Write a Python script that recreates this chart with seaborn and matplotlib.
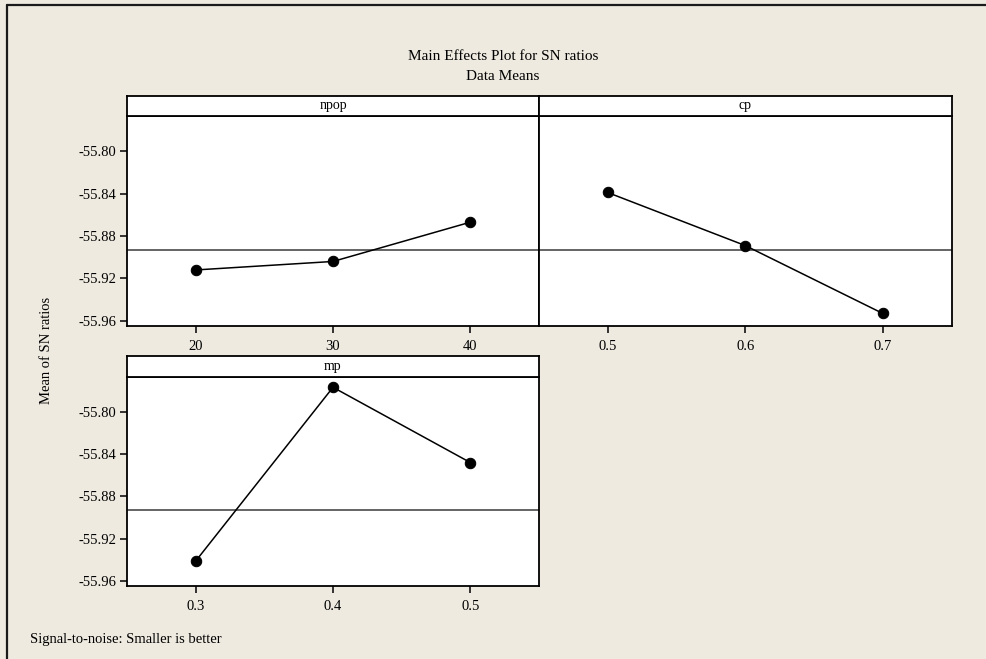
import matplotlib
matplotlib.use("Agg")
import matplotlib.pyplot as plt
from matplotlib.lines import Line2D
import seaborn as sns
import pandas as pd

# Factor levels and mean S/N ratio at each level
npop_levels = [20, 30, 40]
npop_means = [-55.912, -55.904, -55.867]

cp_levels = [0.5, 0.6, 0.7]
cp_means = [-55.839, -55.889, -55.953]

mp_levels = [0.3, 0.4, 0.5]
mp_means = [-55.941, -55.777, -55.848]

grand_mean = -55.893

y_ticks = [-55.80, -55.84, -55.88, -55.92, -55.96]
npop_ticks = ["20", "30", "40"]
cp_ticks = ["0.5", "0.6", "0.7"]
mp_ticks = ["0.3", "0.4", "0.5"]

sns.set_style("white")
plt.rcParams["font.family"] = ["Liberation Serif", "DejaVu Serif"]
plt.rcParams["axes.unicode_minus"] = False
plt.rcParams["text.color"] = "black"
plt.rcParams["axes.labelcolor"] = "black"
plt.rcParams["xtick.color"] = "black"
plt.rcParams["ytick.color"] = "black"

BG = "#EEEAE0"
fig = plt.figure(figsize=(9.86, 6.59), dpi=100, facecolor=BG)

W, H = 986.0, 659.0


def box(x0, y0, x1, y1):
    """Pixel box (top-left origin) -> figure-fraction rect."""
    return [x0 / W, 1 - y1 / H, (x1 - x0) / W, (y1 - y0) / H]


ylim = (-55.9645, -55.767)

panels = [
    ("npop", npop_levels, npop_means, npop_ticks, (15, 45), (127, 116, 539, 325.7), True),
    ("cp", cp_levels, cp_means, cp_ticks, (0.45, 0.75), (538.7, 116, 951.7, 325.7), False),
    ("mp", mp_levels, mp_means, mp_ticks, (0.25, 0.55), (127, 376.7, 539, 586), True),
]

for name, levels, means, ticklabels, xlim, (x0, y0, x1, y1), show_y in panels:
    ax = fig.add_axes(box(x0, y0, x1, y1))
    ax.set_facecolor("white")
    df = pd.DataFrame({name: levels, "SN": means})
    ax.axhline(grand_mean, color="#4a4a4a", lw=1.2, zorder=1)
    sns.lineplot(data=df, x=name, y="SN", ax=ax, color="black", lw=1.1,
                 marker="o", markersize=7.5, markeredgecolor="black",
                 markerfacecolor="black", zorder=3)
    ax.set_xlim(*xlim)
    ax.set_ylim(*ylim)
    ax.set_xticks(levels)
    ax.set_xticklabels(ticklabels)
    ax.set_xlabel("")
    ax.set_ylabel("")
    ax.tick_params(axis="x", direction="out", length=5, width=1.1, pad=5,
                   labelsize=10.5, colors="black", bottom=True)
    if show_y:
        ax.set_yticks(y_ticks)
        ax.set_yticklabels([f"{v:.2f}" for v in y_ticks])
        ax.tick_params(axis="y", direction="out", length=5, width=1.1, pad=3,
                       labelsize=10.5, colors="black", left=True)
    else:
        ax.set_yticks([])
    for sp in ax.spines.values():
        sp.set_color("black")
        sp.set_linewidth(1.3)

    # Factor name strip above the panel
    sy1 = y0
    sy0 = y0 - 20.5
    sax = fig.add_axes(box(x0, sy0, x1, sy1))
    sax.set_facecolor("white")
    sax.set_xticks([])
    sax.set_yticks([])
    for sp in sax.spines.values():
        sp.set_color("black")
        sp.set_linewidth(1.3)
    sax.text(0.5, 0.5, name, ha="center", va="center", fontsize=10,
             color="black", transform=sax.transAxes)

fig.text(503 / W, 1 - 57 / H, "Main Effects Plot for SN ratios",
         ha="center", va="center", fontsize=11, color="black")
fig.text(503 / W, 1 - 77 / H, "Data Means", ha="center", va="center",
         fontsize=11, color="black")
fig.text(47 / W, 1 - 350 / H, "Mean of SN ratios", rotation=90,
         ha="center", va="center", fontsize=10.5, color="black")
fig.text(30 / W, 1 - 640 / H, "Signal-to-noise: Smaller is better",
         ha="left", va="center", fontsize=10.5, color="black")

# Outer frame edges
fig.add_artist(Line2D([7 / W, 7 / W], [0, 1 - 5 / H], color="#1a1a1a",
                      lw=1.6, transform=fig.transFigure))
fig.add_artist(Line2D([7 / W, 1], [1 - 5 / H, 1 - 5 / H], color="#1a1a1a",
                      lw=1.6, transform=fig.transFigure))

fig.savefig("out.png", dpi=100, facecolor=BG)
